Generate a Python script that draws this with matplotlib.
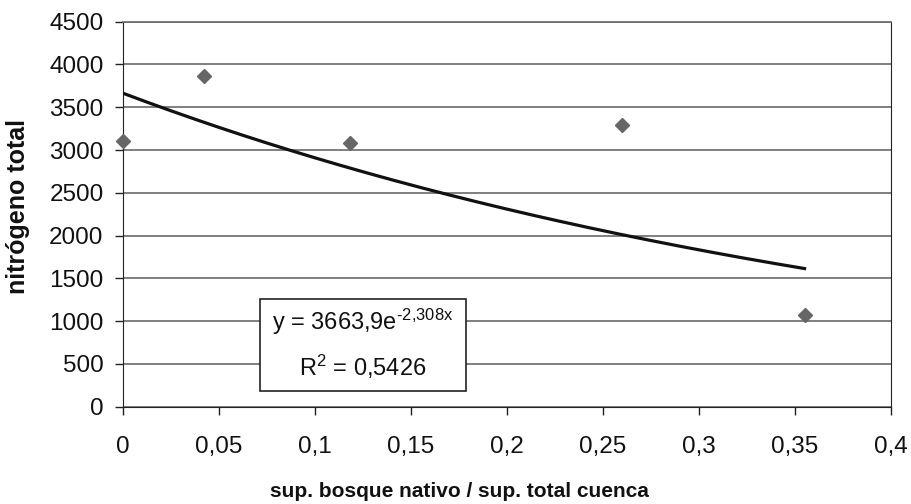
import numpy as np
import matplotlib
matplotlib.use("Agg")
from matplotlib import pyplot as plt
from matplotlib.ticker import FuncFormatter, MultipleLocator
from matplotlib.patches import Rectangle

# measured points
ratio_bosque = [0.0, 0.042, 0.118, 0.260, 0.355]
nitrogeno = [3106, 3868, 3079, 3293, 1072]

# exponential trendline shown in the chart
coef_a = 3663.9
coef_b = -2.308

plt.rcParams['font.family'] = ['Liberation Sans', 'DejaVu Sans']
plt.rcParams['mathtext.fontset'] = 'custom'
plt.rcParams['mathtext.rm'] = 'Liberation Sans'
plt.rcParams['mathtext.it'] = 'Liberation Sans'


def coma(v, pos):
    s = '%g' % round(v, 4)
    return s.replace('.', ',')


fig = plt.figure(figsize=(9.11, 5.04), dpi=100)
ax = fig.add_axes([0.135, 0.193, 0.843, 0.764])

xt = np.linspace(0, max(ratio_bosque), 200)
ax.plot(xt, coef_a * np.exp(coef_b * xt), color='#111111', lw=2.3, zorder=3)
ax.plot(ratio_bosque, nitrogeno, 'D', color='#666666', ms=7.5, zorder=4,
        clip_on=False)

ax.set_xlim(0, 0.4)
ax.set_ylim(0, 4500)
ax.xaxis.set_major_locator(MultipleLocator(0.05))
ax.yaxis.set_major_locator(MultipleLocator(500))
ax.xaxis.set_major_formatter(FuncFormatter(coma))
ax.yaxis.set_major_formatter(FuncFormatter(coma))
ax.grid(axis='y', color='#6a6a6a', lw=1.2)
ax.set_axisbelow(True)

ax.tick_params(axis='both', direction='out', length=6, width=1,
               colors='#222222', labelsize=17.5, labelcolor='#111111')
ax.tick_params(axis='x', pad=15)
ax.tick_params(axis='y', pad=8)
for sp in ['left', 'bottom', 'right']:
    ax.spines[sp].set_color('#222222')
ax.spines['top'].set_color('#6a6a6a')
ax.spines['top'].set_linewidth(1.2)

ax.set_xlabel('sup. bosque nativo / sup. total cuenca', fontsize=15,
              fontweight='bold', color='#111111')
ax.set_ylabel('nitrógeno total', fontsize=18, fontweight='bold',
              color='#111111')
ax.xaxis.set_label_coords(0.4375, -0.195)
ax.yaxis.set_label_coords(-0.121, 0.519)

box = Rectangle((0.179, 0.041), 0.267, 0.239, transform=ax.transAxes,
                facecolor='white', edgecolor='#222222', lw=1.2, zorder=5)
ax.add_patch(box)
ax.text(0.312, 0.22, r'y = 3663,9e$^{\text{-2,308x}}$', transform=ax.transAxes,
        ha='center', va='center', fontsize=17, color='#111111', zorder=6)
ax.text(0.312, 0.103, r'R$^{\text{2}}$ = 0,5426', transform=ax.transAxes,
        ha='center', va='center', fontsize=17, color='#111111', zorder=6)

fig.savefig('out.png', dpi=100)
plt.close(fig)
